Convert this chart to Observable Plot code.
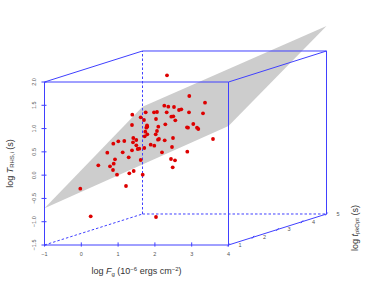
<!DOCTYPE html>
<html><head><meta charset="utf-8">
<script src="https://cdn.jsdelivr.net/npm/d3@7"></script>
<script src="https://cdn.jsdelivr.net/npm/@observablehq/plot@0.6"></script>
<style>html,body{margin:0;padding:0;background:#fff}svg{display:block}</style>
</head><body><div id="chart"></div>
<script>
// Dot positions, converted to front-plane units (log F, log T)
const pixelToF = p => -1 + (p - 44.5) / 36.8;
const pixelToT = p => -1.5 + (245 - p) / 46.57;
const dotPx = [167,132.3,140.7,144,145.7,154,157,164.3,168.3,174,166.7,179,181.3,171.3,173.3,156,175.3,132,147,147.3,146.3,158.3,165.3,157,145.3,147.3,144.7,155.7,187,133.3,136.3,124.3,118.3,113.3,133,136.3,139.3,137.7,132,159,158,164.7,173,150.7,154.3,172,107.3,122.7,162,189.3,205,189,203,193.3,188,197,198.3,213,187.3,115,128.7,140.7,98.3,110,113.7,113,117,133.7,129.3,142.7,126,80.3,90.7,156,171,175,172.7,144.3];
const dotPy = [75.3,114.7,117.3,120,112.3,112.3,112,105.7,106.7,107,112.3,110,109.3,116.7,116.3,119,120.3,125,125.3,126.7,127.7,126.7,124.3,131,131.7,134.3,136.3,134.3,127.3,138,140,141,141.3,143.7,142.3,145.3,148.7,149,150.3,139,139.7,140.3,138,144.7,145.7,147,152.7,152.3,152.3,96,102.7,112.3,113.3,124,127.7,127.7,129,139,151.7,159.3,157.3,160,165.3,166.3,163.7,170,174.7,171,173.3,174.7,186,188.7,216.3,217,159,160.3,167.3,148];
const dotF = dotPx.map(pixelToF);
const dotT = dotPy.map(pixelToT);

// Box limits and fitted plane corners
const fLim = [-1, 4], tLim = [-1.5, 2], dLim = [1, 5];
const planeF = [-1, 4, 4, -1];
const planeD = [1, 1, 5, 5];
const planeT = [-0.712, 1.055, 2.537, 0.804];
const fTicks = [-1, 0, 1, 2, 3, 4];
const tTicks = [-1.5, -1, -0.5, 0, 0.5, 1, 1.5, 2];
const dTicks = [1, 2, 3, 4, 5];
const tFmt = v => v.toFixed(1).replace("-", "\u2212");

// oblique projection of depth axis
const kx = 98 / 36.8 / 4, ky = 31 / 46.57 / 4;
const pf = (f, d) => f + (d - 1) * kx;
const pt = (t, d) => t + (d - 1) * ky;

const blue = "#4040ff", grayText = "#555";
const edge = (a, b) => ({x1: pf(a[0], a[1]), y1: pt(a[2], a[1]), x2: pf(b[0], b[1]), y2: pt(b[2], b[1])});
const [f0, f1] = fLim, [t0, t1] = tLim, [d0, d1] = dLim;
const solid = [
  edge([f0,d0,t0],[f1,d0,t0]), edge([f0,d0,t0],[f0,d0,t1]), edge([f0,d0,t1],[f1,d0,t1]), edge([f1,d0,t0],[f1,d0,t1]),
  edge([f0,d0,t1],[f0,d1,t1]), edge([f1,d0,t1],[f1,d1,t1]), edge([f0,d1,t1],[f1,d1,t1]),
  edge([f1,d1,t1],[f1,d1,t0]), edge([f1,d0,t0],[f1,d1,t0])
];
const dashed = [
  edge([f0,d0,t0],[f0,d1,t0]), edge([f0,d1,t0],[f1,d1,t0]), edge([f0,d1,t0],[f0,d1,t1])
];
const planeData = planeF.map((f, i) => ({x: pf(f, planeD[i]), y: pt(planeT[i], planeD[i])}));
const dx = 0.068, dy = 0.045;

const seg = (data, o) => Plot.link(data, {x1: "x1", y1: "y1", x2: "x2", y2: "y2", stroke: blue, strokeWidth: 1, ...o});

const chart = Plot.plot({
  width: 374, height: 307, margin: 0,
  x: {domain: fLim, range: [44, 228], axis: null},
  y: {domain: tLim, range: [244.5, 81.5], axis: null},
  style: {background: "#fff", fontFamily: "'Liberation Sans', Arial, sans-serif"},
  marks: [
    Plot.line(planeData.concat(planeData[0]), {x: "x", y: "y", fill: "#cdcdcd", stroke: "none"}),
    seg(dashed, {strokeDasharray: "2.5,2"}),
    seg(solid),
    Plot.dot(dotF.map((f, i) => ({f, t: dotT[i]})), {x: "f", y: "t", r: 1.9, fill: "#dd0000", stroke: "none"}),
    // ticks
    Plot.ruleX(fTicks, {x: d => d, y1: t0 - dy, y2: t0 + dy, stroke: blue}),
    Plot.ruleY(tTicks, {y: d => d, x1: f0 - dx, x2: f0 + dx, stroke: blue}),
    seg(dTicks.map(d => ({x1: pf(f1, d) - 0.03, x2: pf(f1, d) + 0.03, y1: pt(t0, d) - 0.03, y2: pt(t0, d) + 0.03}))),
    // tick labels
    Plot.text(fTicks, {x: d => d, y: t0, dy: 9, text: d => String(d).replace("-", "\u2212"), fontSize: 5.5, fill: grayText}),
    Plot.text(tTicks, {x: f0, y: d => d, dx: -10, text: tFmt, rotate: -90, fontSize: 5.5, fill: grayText}),
    Plot.text(dTicks, {x: d => pf(f1, d), y: d => pt(t0, d), dx: 11.5, dy: 0, text: d => String(d), fontSize: 5.5, fill: grayText}),
    // titles (filled with rich text below)
    Plot.text(["xt"], {x: 1.5, y: t0, dy: 26.5, text: d => d, fontSize: 9, fill: "#333", className: "tx"}),
    Plot.text(["yt"], {x: f0, y: 0.25, dx: -34.5, rotate: -90, text: d => d, fontSize: 9, fill: "#333", className: "ty"}),
    Plot.text(["zt"], {x: pf(f1, 5), y: -1.135, dx: 28.5, rotate: -90, text: d => d, fontSize: 9, fill: "#333", className: "tz"})
  ]
});
document.getElementById("chart").append(chart);

function rich(cls, parts) {
  const t = d3.select(chart).select(`.${cls} text`);
  t.text(null);
  for (const [s, o] of parts) {
    const span = t.append("tspan").text(s);
    if (o && o.i) span.attr("font-style", "italic");
    if (o && o.sub) span.attr("font-size", 6).attr("dy", 1.5);
    if (o && o.sup) span.attr("font-size", 6).attr("dy", -3);
    if (o && o.back) span.attr("dy", o.back);
  }
}
rich("tx", [["log "], ["F", {i: 1}], ["g", {sub: 1}], [" (10", {back: -1.5}], ["\u22126", {sup: 1}], [" ergs cm", {back: 3}], ["\u22122", {sup: 1}], [")", {back: 3}]]);
rich("ty", [["log "], ["T", {i: 1}], ["RHS,i", {sub: 1}], [" (s)", {back: -1.5}]]);
rich("tz", [["log "], ["t", {i: 1}], ["pkOpt", {sub: 1}], [" (s)", {back: -1.5}]]);
</script></body></html>
